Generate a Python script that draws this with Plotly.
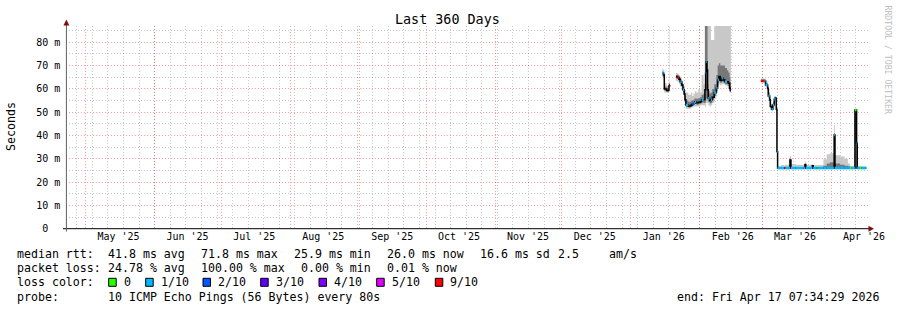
import plotly.graph_objects as go
import pandas as pd

W, H = 897, 310
MONO = "DejaVu Sans Mono"

# ---------------- axis / text data ----------------
range_start = "2025-04-22 07:34:29"
range_end = "2026-04-17 07:34:29"
title_text = "Last 360 Days"

month_starts = ["2025-05-01", "2025-06-01", "2025-07-01", "2025-08-01", "2025-09-01", "2025-10-01",
                "2025-11-01", "2025-12-01", "2026-01-01", "2026-02-01", "2026-03-01", "2026-04-01"]
month_label_pos = ["2025-05-15 18:00", "2025-06-15 18:00", "2025-07-15 18:00", "2025-08-15 18:00",
                   "2025-09-15 18:00", "2025-10-15 18:00", "2025-11-15 18:00", "2025-12-15 18:00",
                   "2026-01-15 18:00", "2026-02-15 18:00", "2026-03-15 18:00", "2026-04-15 18:00"]
month_labels = ["May '25", "Jun '25", "Jul '25", "Aug '25", "Sep '25", "Oct '25",
                "Nov '25", "Dec '25", "Jan '26", "Feb '26", "Mar '26", "Apr '26"]

y_tickvals = [0, 10, 20, 30, 40, 50, 60, 70, 80]
y_ticktext = ["0\u00a0\u00a0", "10\u00a0m", "20\u00a0m", "30\u00a0m", "40\u00a0m",
              "50\u00a0m", "60\u00a0m", "70\u00a0m", "80\u00a0m"]
y_minor_vals = [5, 15, 25, 35, 45, 55, 65, 75, 85]

loss_colors = ["#26ff00", "#00b8ff", "#0059ff", "#5e00ff", "#7e00ff", "#dd00ff", "#ff0000"]
loss_labels = ["0", "1/10", "2/10", "3/10", "4/10", "5/10", "9/10"]

# ---------------- series data (ms) ----------------
segment = [1] * 8 + [2] * 41 + [3] * 46

times = [
    # segment 1
    "2026-01-15 02:00", "2026-01-15 16:00", "2026-01-16 00:00", "2026-01-17 00:00", "2026-01-17 19:00",
    "2026-01-18 02:00", "2026-01-18 09:00", "2026-01-18 14:00",
    # segment 2
    "2026-01-21 06:00", "2026-01-21 22:00", "2026-01-22 14:00", "2026-01-23 04:00", "2026-01-23 19:00",
    "2026-01-24 09:00", "2026-01-24 23:00", "2026-01-25 07:00", "2026-01-25 17:00", "2026-01-26 19:00",
    "2026-01-27 23:00", "2026-01-28 14:00", "2026-01-29 04:00", "2026-01-29 18:00", "2026-01-30 09:00",
    "2026-01-31 06:00", "2026-02-01 04:00", "2026-02-01 18:00", "2026-02-02 16:00", "2026-02-03 06:00",
    "2026-02-03 14:00", "2026-02-03 21:00", "2026-02-04 04:00", "2026-02-04 11:00", "2026-02-04 18:00",
    "2026-02-05 09:00", "2026-02-05 23:00", "2026-02-06 13:00", "2026-02-07 11:00", "2026-02-08 09:00",
    "2026-02-08 23:00", "2026-02-09 13:00", "2026-02-10 04:00", "2026-02-10 18:00", "2026-02-11 08:00",
    "2026-02-12 06:00", "2026-02-13 04:00", "2026-02-13 18:00", "2026-02-14 08:00", "2026-02-14 16:00",
    "2026-02-14 22:00",
    # segment 3
    "2026-02-28 10:00", "2026-03-01 08:00", "2026-03-01 22:00", "2026-03-02 12:00", "2026-03-03 10:00",
    "2026-03-03 17:00", "2026-03-04 08:00", "2026-03-04 15:00", "2026-03-05 05:00", "2026-03-05 19:00",
    "2026-03-06 10:00", "2026-03-07 00:00", "2026-03-07 08:00", "2026-03-07 15:00", "2026-03-07 22:00",
    "2026-03-09 12:00", "2026-03-10 22:00", "2026-03-11 08:00", "2026-03-13 00:00", "2026-03-13 11:00",
    "2026-03-13 22:00", "2026-03-16 00:00", "2026-03-19 12:00", "2026-03-20 05:00", "2026-03-20 14:00",
    "2026-03-23 12:00", "2026-03-23 22:00", "2026-03-25 11:00", "2026-03-25 22:00", "2026-03-28 12:00",
    "2026-03-30 00:00", "2026-03-31 12:00", "2026-04-02 02:00", "2026-04-02 08:00", "2026-04-02 17:00",
    "2026-04-05 00:00", "2026-04-07 00:00", "2026-04-08 12:00", "2026-04-09 10:00", "2026-04-09 22:00",
    "2026-04-11 16:00", "2026-04-12 10:00", "2026-04-12 17:00", "2026-04-13 22:00", "2026-04-14 16:00",
    "2026-04-16 18:00",
]

median = [
    66.7, 66.0, 60.0, 59.3, 59.3, 61.3, 61.7, 61.7,
    65.3, 65.0, 64.1, 63.1, 61.7, 59.6, 57.8, 55.3, 53.1, 52.7,
    53.1, 53.5, 53.8, 54.5, 54.1, 54.3, 54.5, 55.3, 55.3, 59.6,
    66.7, 71.7, 68.1, 59.6, 56.0, 55.0, 55.3, 56.4, 58.4, 60.3,
    63.8, 65.3, 63.6, 64.6, 63.8, 63.1, 63.1, 62.4, 60.3, 59.3, 59.3,
    63.4, 63.4, 63.4, 61.7, 60.3, 57.0, 55.3, 52.4, 51.3, 53.1,
    55.6, 56.0, 51.3, 33.1, 26.0, 26.0, 26.0, 26.0, 26.0, 29.5,
    26.0, 26.0, 26.0, 27.6, 26.0, 27.0, 26.0, 26.0, 26.0, 26.0,
    26.0, 26.0, 26.0, 40.2, 26.0, 26.0, 26.0, 26.0, 26.0, 26.0,
    51.0, 36.7, 26.0, 26.0, 26.0, 26.0,
]

smoke_hi = [
    68.5, 68.0, 62.5, 61.5, 61.0, 63.0, 90.0, 62.5,
    66.8, 66.5, 66.0, 65.0, 63.5, 62.0, 61.0, 59.5, 58.5, 57.5,
    58.5, 57.0, 58.0, 59.0, 58.5, 60.0, 58.5, 66.0, 62.0, 90.0,
    90.0, 90.0, 90.0, 90.0, 90.0, 90.0, 81.0, 81.0, 90.0, 90.0,
    90.0, 90.0, 90.0, 90.0, 90.0, 90.0, 90.0, 90.0, 90.0, 90.0, 90.0,
    64.5, 64.5, 64.5, 63.5, 61.5, 60.0, 58.0, 55.0, 53.5, 54.5,
    57.0, 57.0, 53.0, 34.0, 26.8, 27.3, 27.0, 27.5, 27.5, 31.2,
    27.8, 27.5, 27.5, 28.9, 27.5, 27.8, 27.3, 27.3, 27.3, 29.8,
    32.0, 32.4, 31.5, 44.5, 31.5, 31.0, 30.0, 28.0, 27.0, 27.0,
    51.5, 37.5, 27.0, 26.8, 26.8, 26.8,
]

smoke_lo = [
    65.0, 64.5, 58.5, 58.3, 58.3, 60.0, 60.5, 61.0,
    63.5, 63.0, 62.0, 61.0, 59.5, 57.5, 55.5, 53.0, 51.5, 51.5,
    52.0, 52.0, 52.5, 52.5, 52.5, 52.5, 53.0, 53.0, 53.0, 52.0,
    53.0, 54.0, 54.0, 54.0, 53.0, 52.5, 53.0, 54.0, 56.0, 58.0,
    61.0, 62.0, 61.5, 62.0, 62.0, 61.5, 61.0, 60.0, 58.5, 58.5, 58.5,
    63.0, 62.8, 62.5, 61.0, 58.5, 56.0, 54.0, 51.5, 50.5, 51.5,
    54.0, 52.0, 50.0, 32.0, 25.5, 25.5, 25.5, 25.5, 25.5, 25.5,
    25.5, 25.5, 25.5, 25.5, 25.5, 25.5, 25.5, 25.5, 25.5, 25.5,
    25.5, 25.5, 25.5, 25.5, 25.5, 25.5, 25.5, 25.5, 25.5, 25.5,
    25.5, 25.5, 25.5, 25.5, 25.5, 25.5,
]

dark_hi = [
    67.5, 67.0, 61.0, 60.5, 60.0, 62.0, 62.5, 62.0,
    66.0, 65.8, 65.0, 64.0, 62.8, 60.8, 59.0, 57.0, 55.0, 54.5,
    55.0, 55.0, 55.5, 56.0, 55.8, 56.0, 56.5, 57.5, 58.0, 90.0,
    90.0, 90.0, 90.0, 62.0, 59.0, 58.0, 58.5, 60.0, 62.0, 66.0,
    70.0, 71.0, 70.0, 70.0, 70.0, 69.0, 68.0, 67.0, 65.0, 63.0, 63.0,
    64.0, 64.0, 64.0, 62.5, 61.0, 58.5, 56.5, 53.5, 52.5, 54.0,
    56.5, 56.5, 52.0, 33.5, 26.4, 26.5, 26.5, 26.5, 26.5, 30.0,
    26.5, 26.5, 26.5, 27.8, 26.5, 27.2, 26.5, 26.5, 26.5, 27.0,
    28.0, 28.5, 28.0, 41.0, 28.0, 27.5, 27.0, 26.8, 26.5, 26.5,
    51.0, 37.0, 26.5, 26.4, 26.4, 26.4,
]

dark_lo = [
    66.0, 65.0, 59.3, 58.8, 58.8, 60.8, 61.0, 61.3,
    64.5, 64.2, 63.2, 62.2, 60.8, 58.6, 56.8, 54.2, 52.2, 52.0,
    52.4, 52.8, 53.0, 53.6, 53.2, 53.4, 53.6, 54.3, 54.0, 54.0,
    55.0, 56.0, 56.0, 55.0, 54.5, 53.8, 54.0, 55.0, 57.0, 59.0,
    62.5, 64.0, 62.5, 63.3, 62.8, 62.0, 62.0, 61.2, 59.3, 58.8, 58.8,
    63.2, 63.0, 63.0, 61.3, 59.5, 56.5, 54.8, 52.0, 51.0, 52.5,
    55.0, 55.0, 50.8, 32.8, 25.8, 25.8, 25.8, 25.8, 25.8, 25.8,
    25.8, 25.8, 25.8, 25.8, 25.8, 25.8, 25.8, 25.8, 25.8, 25.8,
    25.8, 25.8, 25.8, 25.8, 25.8, 25.8, 25.8, 25.8, 25.8, 25.8,
    25.8, 25.8, 25.8, 25.8, 25.8, 25.8,
]

# index into loss_colors, -1 = no loss colour mark
loss = [
    1, -1, -1, -1, -1, 6, -1, -1,
    -1, 6, -1, 1, -1, 1, -1, -1, 1, -1,
    -1, 2, 1, 1, -1, -1, -1, 1, -1, -1,
    1, 1, -1, -1, 1, -1, 1, -1, 1, 1,
    1, -1, -1, 1, -1, 1, -1, -1, -1, 3, -1,
    6, 6, 1, 1, -1, 1, -1, -1, 1, 1,
    1, -1, -1, 1, 1, 1, 6, 1, 1, -1,
    1, 1, 1, -1, 1, -1, 1, 0, 1, 1,
    1, 1, 1, 1, 1, 1, 1, 1, 0, 1,
    0, 1, 1, 0, 1, 1,
]

# legend text
stats_row1 = ["median rtt:", "41.8 ms avg", "71.8 ms max", "25.9 ms min", "26.0 ms now", "16.6 ms sd", "2.5", "am/s"]
stats_row2 = ["packet loss:", "24.78 % avg", "100.00 % max", "0.00 % min", "0.01 % now"]
probe_text = "10 ICMP Echo Pings (56 Bytes) every 80s"
end_text = "end: Fri Apr 17 07:34:29 2026"

# ---------------- figure ----------------
df = pd.DataFrame(dict(time=pd.to_datetime(times), median=median, hi=smoke_hi, lo=smoke_lo,
                       dhi=dark_hi, dlo=dark_lo, loss=loss, seg=segment))

fig = go.Figure()


def band(g, lo_col, hi_col, color):
    fig.add_trace(go.Scatter(x=g.time, y=g[lo_col], mode="lines", line=dict(width=0, shape="hv"),
                             hoverinfo="skip", showlegend=False))
    fig.add_trace(go.Scatter(x=g.time, y=g[hi_col], mode="lines", line=dict(width=0, shape="hv"),
                             fill="tonexty", fillcolor=color, hoverinfo="skip", showlegend=False))


for sid, g in df.groupby("seg"):
    band(g, "lo", "hi", "rgb(200,200,200)")
    band(g, "dlo", "dhi", "rgb(120,120,120)")
    fig.add_trace(go.Scatter(x=g.time, y=g["median"], mode="lines",
                             line=dict(color="#000000", width=1.5, shape="hv"),
                             showlegend=False, hoverinfo="skip"))

for k, col in enumerate(loss_colors):
    xs, ys = [], []
    for sid, g in df.groupby("seg"):
        t = list(g.time)
        m = list(g["median"])
        l = list(g["loss"])
        for i in range(len(t) - 1):
            if l[i] == k:
                xs += [t[i], t[i + 1], None]
                ys += [m[i], m[i], None]
    if xs:
        fig.add_trace(go.Scatter(x=xs, y=ys, mode="lines", line=dict(color=col, width=2.5),
                                 showlegend=False, hoverinfo="skip"))

# dummy trace to activate the overlaid month-grid axis
fig.add_trace(go.Scatter(x=[range_start], y=[0], xaxis="x2", mode="markers",
                         marker=dict(opacity=0), showlegend=False, hoverinfo="skip"))

X0, X1 = 66.4, 867.5     # plot left/right px
YB, YT = 228.7, 26.0     # plot bottom/top px
xdom = [X0 / W, X1 / W]
ydom = [1 - YB / H, 1 - YT / H]

MAJ = "rgba(255,0,0,0.38)"
MIN = "rgba(0,0,0,0.22)"
DASH = "1px,2px"

week_lines = pd.date_range("2025-04-27", "2026-04-17", freq="7D")

fig.update_layout(
    width=W, height=H, margin=dict(l=0, r=0, t=0, b=0, pad=0, autoexpand=False),
    paper_bgcolor="white", plot_bgcolor="white", showlegend=False,
    xaxis=dict(domain=xdom, range=[range_start, range_end], type="date", automargin=False,
               tickmode="array", tickvals=month_label_pos, ticktext=month_labels,
               ticks="", showgrid=False, zeroline=False, showline=False,
               tickfont=dict(family=MONO, size=10, color="#000"),
               minor=dict(tickvals=list(week_lines), showgrid=True, gridcolor=MIN,
                          griddash=DASH, gridwidth=1, ticks="")),
    xaxis2=dict(domain=xdom, range=[range_start, range_end], type="date", overlaying="x",
                anchor="y", tickmode="array", tickvals=month_starts, showticklabels=False,
                automargin=False, ticks="", showgrid=True, gridcolor=MAJ, griddash=DASH, gridwidth=1,
                zeroline=False, showline=False),
    yaxis=dict(domain=ydom, range=[0, 87.0], tickmode="array", tickvals=y_tickvals, automargin=False,
               ticktext=y_ticktext, ticks="", showgrid=True, gridcolor=MAJ, griddash=DASH,
               gridwidth=1, zeroline=False, showline=False, ticklabelstandoff=5,
               tickfont=dict(family=MONO, size=10, color="#000"),
               minor=dict(tickvals=y_minor_vals, showgrid=True, gridcolor=MIN,
                          griddash=DASH, gridwidth=1, ticks="")),
)


def px(x):
    return x / W


def py(y):
    return 1 - y / H


shapes = []
# axes lines
shapes.append(dict(type="line", xref="paper", yref="paper", x0=px(63), x1=px(870), y0=py(YB), y1=py(YB),
                   line=dict(color="#000", width=1), layer="above"))
shapes.append(dict(type="line", xref="paper", yref="paper", x0=px(X0), x1=px(X0), y0=py(231.5), y1=py(23),
                   line=dict(color="#606060", width=1), layer="above"))
# arrows
shapes.append(dict(type="path", xref="paper", yref="paper",
                   path=f"M {px(868.5)} {py(YB - 3)} L {px(874)} {py(YB)} L {px(868.5)} {py(YB + 3)} Z",
                   fillcolor="#7f1010", line=dict(width=0), layer="above"))
shapes.append(dict(type="path", xref="paper", yref="paper",
                   path=f"M {px(X0 - 3)} {py(25.5)} L {px(X0)} {py(19.5)} L {px(X0 + 3)} {py(25.5)} Z",
                   fillcolor="#7f1010", line=dict(width=0), layer="above"))

annotations = []


def txt(x, y, s, size=11.6, color="#000", xanchor="left", angle=0):
    annotations.append(dict(x=px(x), y=py(y), xref="paper", yref="paper", text=s, showarrow=False,
                            xanchor=xanchor, yanchor="middle", textangle=angle,
                            font=dict(family=MONO, size=size, color=color)))


txt(447.5, 19.5, title_text, size=13.4, xanchor="center")
txt(11, 127, "Seconds", size=11.6, xanchor="center", angle=-90)
txt(887.5, 60, "RRDTOOL / TOBI OETIKER", size=8.2, color="#c0c0c0", xanchor="center", angle=90)

row1_x = [16, 107.3, 200.3, 293.3, 386.7, 479.5, 557.3, 608.3]
row2_x = [16, 107.3, 200.3, 300, 386.7]
for s, x in zip(stats_row1, row1_x):
    txt(x - 1.5, 254, s.replace(" ", "\u00a0"))
for s, x in zip(stats_row2, row2_x):
    txt(x - 1.5, 268.3, s.replace(" ", "\u00a0"))

txt(16 - 1.5, 282.3, "loss\u00a0color:")
box_x = [108.7, 145.7, 203, 260.7, 319, 376.7, 435.3]
for col, lab, bx in zip(loss_colors, loss_labels, box_x):
    shapes.append(dict(type="rect", xref="paper", yref="paper", x0=px(bx), x1=px(bx + 7.5),
                       y0=py(278.3), y1=py(286.3), fillcolor=col, line=dict(color="#000", width=1),
                       layer="above"))
    txt(bx + 14.3 - 1.5, 282.3, lab)

txt(16 - 1.5, 296.7, "probe:")
txt(107.3 - 1.5, 296.7, probe_text.replace(" ", "\u00a0"))
txt(881, 296.7, end_text.replace(" ", "\u00a0"), xanchor="right")

fig.update_layout(shapes=shapes, annotations=annotations)

fig.write_html("out.html",
               post_script="document.body.style.margin='0';document.body.style.overflow='hidden';")
